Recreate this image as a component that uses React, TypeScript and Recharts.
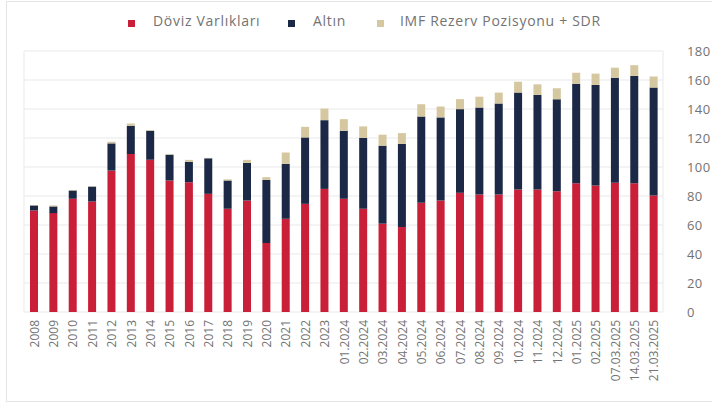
import { BarChart, Bar, XAxis, YAxis, CartesianGrid } from "recharts";

const periods = [
  "2008", "2009", "2010", "2011", "2012", "2013", "2014", "2015", "2016", "2017", "2018",
  "2019", "2020", "2021", "2022", "2023", "01.2024", "02.2024", "03.2024", "04.2024",
  "05.2024", "06.2024", "07.2024", "08.2024", "09.2024", "10.2024", "11.2024", "12.2024",
  "01.2025", "02.2025", "07.03.2025", "14.03.2025", "21.03.2025",
];

// milyar $
const doviz = [
  70, 68.2, 78.1, 76.2, 97.5, 109, 105, 90.7, 89.5, 81.5, 71.2,
  76.9, 47.6, 64.3, 74.6, 84.9, 78.1, 71.2, 60.9, 58.6,
  75.3, 76.9, 82.2, 81, 81, 84.5, 84.5, 83.3,
  88.8, 87.2, 89.1, 88.8, 80.4,
];
const altin = [
  3.5, 4.6, 5.7, 10.3, 18.8, 19.4, 20, 17.8, 14.1, 24.5, 19.5,
  25.9, 43.5, 37.8, 45.8, 47.4, 46.9, 48.8, 53.8, 57.3,
  59.5, 57.3, 57.7, 60, 62.8, 66.8, 65.2, 63.4,
  68.7, 69.4, 72.5, 74, 74.4,
];
const imfSdr = [
  0.3, 0.7, 0.4, 0.3, 1.1, 1.6, 0.5, 0.5, 1.3, 0.3, 0.8,
  2.1, 1.9, 7.9, 7.3, 8, 8, 8, 7.6, 7.5,
  8.5, 7.5, 6.9, 7.5, 7.5, 7.5, 7.3, 7.6,
  7.5, 7.8, 6.9, 7.4, 7.6,
];
const yTicks = [0, 20, 40, 60, 80, 100, 120, 140, 160, 180];

const RED = "#ca1f38";
const NAVY = "#1b2946";
const TAN = "#d5c7a0";
const TEXT = "#737373";
const FONT = "'Open Sans', sans-serif";

const data = periods.map((p, i) => ({ name: p, doviz: doviz[i], altin: altin[i], imf: imfSdr[i] }));

const legendItems = [
  { label: "Döviz Varlıkları", color: RED, sq: 128, tx: 153 },
  { label: "Altın", color: NAVY, sq: 288, tx: 313 },
  { label: "IMF Rezerv Pozisyonu + SDR", color: TAN, sq: 377, tx: 400 },
];

const XTick = ({ x, y, payload }: any) => (
  <g transform={`translate(${x},${y})`}>
    <text transform="rotate(-90)" x={0} y={0} dy={5} textAnchor="end" fill={TEXT} fontSize={12} fontFamily={FONT}>
      {payload.value}
    </text>
  </g>
);

const App = () => {
  return (
    <div style={{ position: "absolute", left: 0, top: 0, width: 712, height: 405, background: "#fff" }}>
      <style>{"body{margin:0;overflow:hidden}"}</style>
      <div
        style={{
          position: "absolute", left: 6, top: 1, width: 720, height: 401,
          border: "1px solid #e4e4e4", boxSizing: "border-box",
        }}
      />
      {legendItems.map(it => (
        <div key={it.label}>
          <span style={{ position: "absolute", left: it.sq, top: 20, width: 7, height: 7, background: it.color }} />
          <span
            style={{
              position: "absolute", left: it.tx, top: 11, fontFamily: FONT, fontSize: 14,
              letterSpacing: 0.7, color: TEXT, whiteSpace: "nowrap", lineHeight: "20px",
            }}
          >
            {it.label}
          </span>
        </div>
      ))}
      <div style={{ position: "absolute", left: 0, top: 0 }}>
        <BarChart
          width={712}
          height={405}
          data={data}
          margin={{ top: 51, left: 24, right: 0, bottom: 8 }}
          barSize={8}
          style={{ overflow: "visible" }}
        >
          <CartesianGrid stroke="#e9e9e9" verticalPoints={[24, 663]} />
          <XAxis
            dataKey="name"
            interval={0}
            height={85}
            axisLine={false}
            tickLine={false}
            tick={<XTick />}
          />
          <YAxis
            orientation="right"
            width={49}
            domain={[0, 180]}
            ticks={yTicks}
            axisLine={false}
            tickLine={false}
            tickMargin={18}
            tick={{ fill: TEXT, fontSize: 13, letterSpacing: 0.4, fontFamily: FONT, textAnchor: "start" }}
          />
          <Bar dataKey="doviz" stackId="a" fill={RED} isAnimationActive={false} />
          <Bar dataKey="altin" stackId="a" fill={NAVY} isAnimationActive={false} />
          <Bar dataKey="imf" stackId="a" fill={TAN} isAnimationActive={false} />
        </BarChart>
      </div>
    </div>
  );
};

export default App;
